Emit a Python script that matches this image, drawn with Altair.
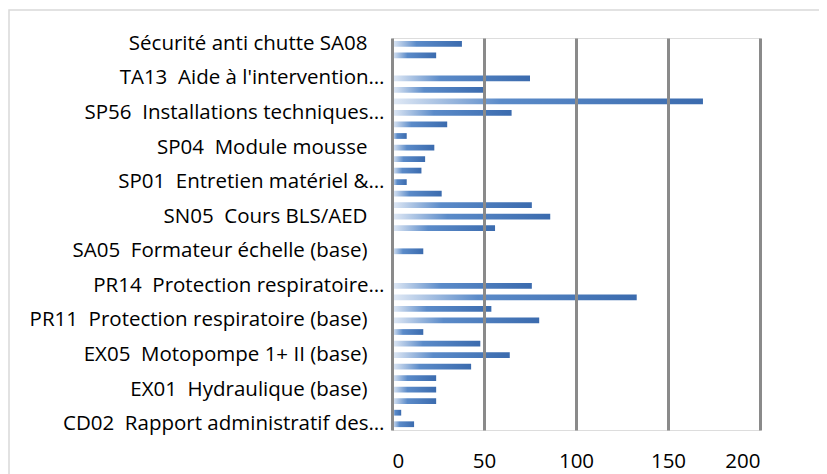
import altair as alt
import pandas as pd

# Categories top-to-bottom as displayed
categories = [
    "Sécurité anti chutte SA08",
    "TA20",
    "TA15",
    "TA13\u00a0 Aide à l'intervention…",
    "TA10",
    "SP60",
    "SP56\u00a0 Installations techniques…",
    "SP50",
    "SP10",
    "SP04\u00a0 Module mousse",
    "SP03",
    "SP02",
    "SP01\u00a0 Entretien matériel &…",
    "SN10",
    "SN06",
    "SN05\u00a0 Cours BLS/AED",
    "SN01",
    "SA10",
    "SA05\u00a0 Formateur échelle (base)",
    "SA02",
    "PR20",
    "PR14\u00a0 Protection respiratoire…",
    "PR13",
    "PR12",
    "PR11\u00a0 Protection respiratoire (base)",
    "EX10",
    "EX07",
    "EX05\u00a0 Motopompe 1+ II (base)",
    "EX03",
    "EX02",
    "EX01\u00a0 Hydraulique (base)",
    "CD05",
    "CD03",
    "CD02\u00a0 Rapport administratif des…",
]
values = [38, 24, 0, 75, 50, 169, 65, 30, 8, 23, 18, 16, 8, 27, 76, 86, 56, 0,
          17, 0, 0, 76, 133, 54, 80, 17, 48, 64, 43, 24, 24, 24, 5, 12]

visible_labels = categories[::3]
x_ticks = [0, 50, 100, 150, 200]

df = pd.DataFrame({"cat": categories, "val": values})

W, H = 368, 392

grad = alt.LinearGradient(
    gradient="linear",
    stops=[
        alt.GradientStop(color="#e3ebf6", offset=0),
        alt.GradientStop(color="#5b8bc9", offset=0.35),
        alt.GradientStop(color="#3b6bae", offset=1),
    ],
    x1=0, x2=1, y1=0, y2=0,
)

bars = alt.Chart(df).mark_bar(color=grad).encode(
    y=alt.Y(
        "cat:N",
        sort=categories,
        scale=alt.Scale(paddingInner=0.5, paddingOuter=0.25),
        axis=alt.Axis(
            values=visible_labels,
            title=None,
            ticks=False,
            domain=False,
            grid=False,
            labelFont="Open Sans",
            labelFontSize=20.5,
            labelColor="#000000",
            labelPadding={"condition": {"test": "indexof(datum.label, '…') >= 0", "value": 8}, "value": 25},
            labelLimit=400,
        ),
    ),
    x=alt.X(
        "val:Q",
        scale=alt.Scale(domain=[0, 200], nice=False),
        axis=alt.Axis(
            values=x_ticks,
            title=None,
            grid=True,
            gridColor="#8a8a8a",
            gridWidth=3,
            domain=False,
            ticks=False,
            labelFont="Open Sans",
            labelFontSize=20.5,
            labelColor="#000000",
            labelPadding=21,
            zindex=1,
        ),
    ),
)

frame = alt.Chart(pd.DataFrame({"a": [0]})).mark_rect(
    filled=False, stroke="#d9d9d9", strokeWidth=1.5
).encode(
    x=alt.value(-383), x2=alt.value(W + 80), y=alt.value(-28), y2=alt.value(H + 80)
)

chart = alt.layer(frame, bars).properties(
    width=W,
    height=H,
    autosize=alt.AutoSizeParams(type="none"),
    padding={"left": 384, "top": 30, "right": 59, "bottom": 44},
).configure_view(stroke=None).configure(background="white")

chart.save("out.html", embed_options={"renderer": "svg", "actions": False})
